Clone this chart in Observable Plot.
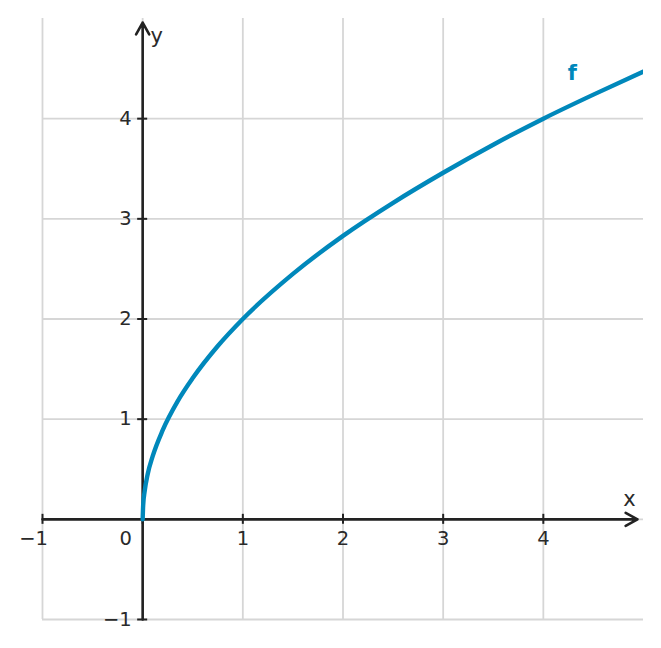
<!DOCTYPE html>
<html>
<head>
<meta charset="utf-8">
<script src="https://cdn.jsdelivr.net/npm/d3@7"></script>
<script src="https://cdn.jsdelivr.net/npm/@observablehq/plot@0.6"></script>
<style>
  html, body { margin: 0; padding: 0; background: #fff; }
  svg { display: block; }
</style>
</head>
<body>
<div id="chart"></div>
<script>
// Data
const curveX = [0, 0.005, 0.02, 0.05, 0.1, 0.2, 0.35, 0.5, 0.75, 1, 1.5, 2, 2.5, 3, 3.5, 4, 4.5, 5];
const curveY = [0, 0.14, 0.28, 0.45, 0.63, 0.89, 1.18, 1.41, 1.73, 2, 2.45, 2.83, 3.16, 3.46, 3.74, 4, 4.24, 4.47];
const xTicks = [-1, 0, 1, 2, 3, 4];
const yTicks = [-1, 1, 2, 3, 4];
const xTickLabels = ["\u22121", "0", "1", "2", "3", "4"];
const yTickLabels = ["\u22121", "1", "2", "3", "4"];
const gridX = [-1, 0, 1, 2, 3, 4];
const gridY = [-1, 0, 1, 2, 3, 4];
const seriesName = "f";

const curve = curveX.map((x, i) => ({x, y: curveY[i]}));
const xLab = xTicks.map((x, i) => ({x, t: xTickLabels[i]}));
const yLab = yTicks.map((y, i) => ({y, t: yTickLabels[i]}));
const axisColor = "#222222";
const textColor = "#2a2a2a";
const blue = "#0088bb";
const font = "DejaVu Sans, sans-serif";
const fs = 19.5;

const chart = Plot.plot({
  width: 661,
  height: 648,
  marginLeft: 42,
  marginRight: 18,
  marginTop: 18,
  marginBottom: 29,
  style: {fontFamily: font, fontSize: fs + "px", color: axisColor, background: "#fff"},
  x: {domain: [-1, 5], axis: null},
  y: {domain: [-1, 5], axis: null},
  marks: [
    // grid
    Plot.ruleX(gridX, {x: d => d, y1: -1, y2: 5, stroke: "#d6d6d6", strokeWidth: 1.8}),
    Plot.ruleY(gridY, {y: d => d, x1: -1, x2: 5, stroke: "#d6d6d6", strokeWidth: 1.8}),
    // axes with arrows
    Plot.arrow([{x1: -1, y1: 0, x2: 4.94, y2: 0}], {x1: "x1", y1: "y1", x2: "x2", y2: "y2", stroke: axisColor, strokeWidth: 2.6, headLength: 7.8, headAngle: 58}),
    Plot.arrow([{x1: 0, y1: -1, x2: 0, y2: 4.96}], {x1: "x1", y1: "y1", x2: "x2", y2: "y2", stroke: axisColor, strokeWidth: 2.6, headLength: 7.8, headAngle: 58}),
    // ticks
    Plot.ruleX(xTicks, {x: d => d, y1: -0.05, y2: 0.05, stroke: axisColor, strokeWidth: 2}),
    Plot.ruleY(yTicks, {y: d => d, x1: -0.05, x2: 0.05, stroke: axisColor, strokeWidth: 2}),
    // tick labels
    Plot.text(xLab.filter(d => d.x > 0), {x: "x", y: () => 0, text: "t", dy: 19, fill: textColor, fontSize: fs}),
    Plot.text(xLab.filter(d => d.x === -1), {x: "x", y: () => 0, text: "t", dy: 19, dx: -9, fill: textColor, fontSize: fs}),
    Plot.text(xLab.filter(d => d.x === 0), {x: "x", y: () => 0, text: "t", dy: 19, dx: -17, fill: textColor, fontSize: fs}),
    Plot.text(yLab, {x: () => 0, y: "y", text: "t", textAnchor: "end", dx: -11, fill: textColor, fontSize: fs}),
    // axis labels
    Plot.text([{x: 4.86, y: 0, t: "x"}], {x: "x", y: "y", text: "t", dy: -20, fill: textColor, fontSize: 21}),
    Plot.text([{x: 0, y: 4.96, t: "y"}], {x: "x", y: "y", text: "t", dx: 14, dy: 14, fill: textColor, fontSize: 21}),
    // curve
    Plot.line(curve, {x: "x", y: "y", stroke: blue, strokeWidth: 4.4, curve: "monotone-x", clip: true}),
    Plot.text([{x: 4.29, y: 4.45, t: seriesName}], {x: "x", y: "y", text: "t", fill: blue, fontWeight: "bold", fontSize: 21})
  ]
});

// make sure the sizes win over the default stylesheet
chart.querySelectorAll("text").forEach(t => {
  const s = t.getAttribute("font-size") || t.parentNode.getAttribute("font-size");
  if (s) t.style.fontSize = s + "px";
});
chart.querySelectorAll("g[font-size]").forEach(g => { g.style.fontSize = g.getAttribute("font-size") + "px"; });

document.getElementById("chart").append(chart);
</script>
</body>
</html>
